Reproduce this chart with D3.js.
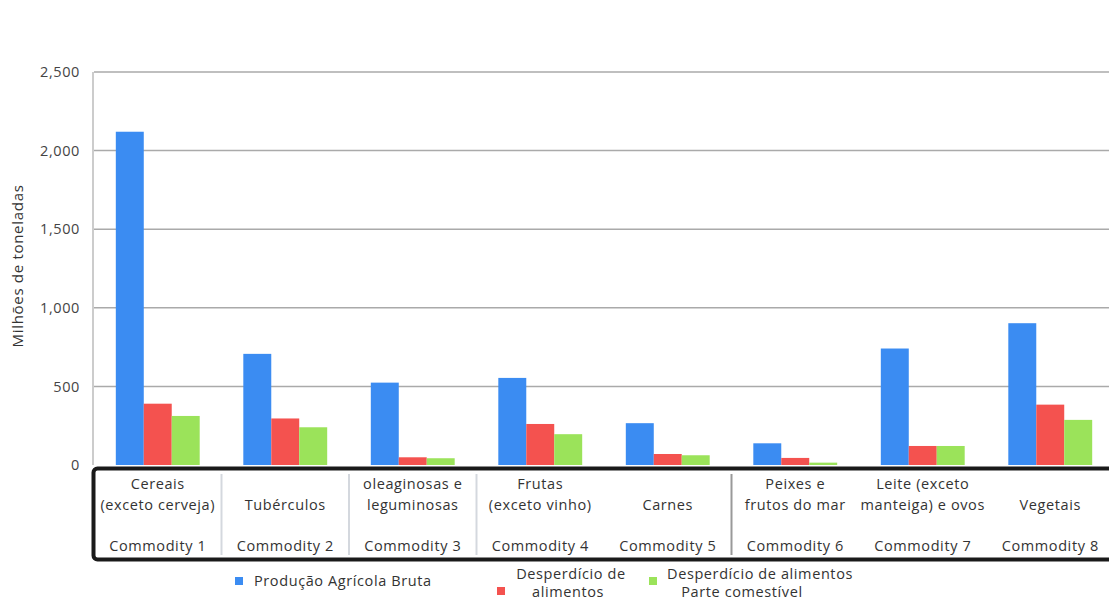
<!DOCTYPE html>
<html><head><meta charset="utf-8">
<script src="https://cdn.jsdelivr.net/npm/d3@7"></script>
<style>body{margin:0;background:#fff;} text{font-family:"Open Sans",sans-serif;letter-spacing:0.6px;}</style>
</head><body>
<svg id="c" width="1109" height="601"></svg>
<script>
const categories = ["Commodity 1","Commodity 2","Commodity 3","Commodity 4","Commodity 5","Commodity 6","Commodity 7","Commodity 8"];
const categoryNames = [["Cereais","(exceto cerveja)"],["Tubérculos"],["oleaginosas e","leguminosas"],["Frutas","(exceto vinho)"],["Carnes"],["Peixes e","frutos do mar"],["Leite (exceto","manteiga) e ovos"],["Vegetais"]];
const seriesNames = ["Produção Agrícola Bruta","Desperdício de alimentos","Desperdício de alimentos Parte comestível"];
const producao = [2120, 707, 524, 554, 266, 138, 741, 902];
const desperdicio = [390, 296, 49, 261, 70, 45, 121, 384];
const comestivel = [312, 240, 43, 196, 62, 15, 121, 287];
const yTicks = [0, 500, 1000, 1500, 2000, 2500];
const colors = ["#3b8cf2", "#f4524f", "#9be35a"];
const seriesValues = [producao, desperdicio, comestivel];

const svg = d3.select("#c");
const y = d3.scaleLinear().domain([0, 2500]).range([465, 72]);
const x0 = d3.scaleBand().domain(categories).range([94, 1114]).padding(0);
const x1 = d3.scaleBand().domain([0,1,2]).range([0, x0.bandwidth()]).paddingInner(0).paddingOuter(0.78);

// gridlines
svg.append("g").selectAll("line").data(yTicks.filter(d=>d>0)).join("line")
  .attr("x1", 94).attr("x2", 1109).attr("y1", d=>y(d)).attr("y2", d=>y(d))
  .attr("stroke", "#aaa").attr("stroke-width", 1.5);
// y axis line
svg.append("line").attr("x1",93).attr("x2",93).attr("y1",y(2500)).attr("y2",y(0)).attr("stroke","#bbb").attr("stroke-width",1.5);

// y axis tick labels
const yAxis = d3.axisLeft(y).tickValues(yTicks).tickSize(0).tickPadding(0).tickFormat(d3.format(","));
const ga = svg.append("g").attr("transform","translate(80,0)").call(yAxis);
ga.select(".domain").remove();
ga.selectAll("text").attr("fill","#444").style("font-size","14.5px").style("font-family","Open Sans").style("letter-spacing","0.6px");

svg.append("text").attr("transform","translate(23,266) rotate(-90)").attr("text-anchor","middle")
  .attr("fill","#333").style("font-size","15px").style("letter-spacing","0.7px").text("Milhões de toneladas");

// bars
const groups = svg.append("g").selectAll("g").data(categories).join("g")
  .attr("transform", d=>`translate(${x0(d)},0)`);
groups.selectAll("rect").data((d,i)=>seriesValues.map((s,k)=>({k, v:s[i]}))).join("rect")
  .attr("x", d=>x1(d.k)).attr("width", x1.bandwidth())
  .attr("y", d=>y(d.v)).attr("height", d=>y(0)-y(d.v))
  .attr("fill", d=>colors[d.k]);

// category box
svg.append("rect").attr("x",93.5).attr("y",468.5).attr("width",1030).attr("height",91).attr("rx",4)
  .attr("fill","#fff").attr("stroke","#1a1a1a").attr("stroke-width",4);
// separators
const sepIdx = [1,2,3,5];
svg.append("g").selectAll("line").data(sepIdx).join("line")
  .attr("x1", i=>x0(categories[i])).attr("x2", i=>x0(categories[i]))
  .attr("y1", 474).attr("y2", 555)
  .attr("stroke", i=> i===5 ? "#999" : "#d4d8de").attr("stroke-width", 2);

const lab = svg.append("g").selectAll("g").data(categories).join("g")
  .attr("transform", d=>`translate(${x0(d)+x0.bandwidth()/2},0)`);
lab.each(function(d,i){
  const g = d3.select(this);
  const lines = categoryNames[i];
  lines.forEach((t,j)=>{
    const yy = lines.length===2 ? 489 + j*21 : 510;
    g.append("text").attr("y", yy).attr("text-anchor","middle").attr("fill","#333").style("font-size","14.5px").text(t);
  });
  g.append("text").attr("y", 551).attr("text-anchor","middle").attr("fill","#333").style("font-size","14.5px").text(d);
});

// legend
const leg = svg.append("g");
leg.append("rect").attr("x",235).attr("y",577).attr("width",8).attr("height",8).attr("fill",colors[0]);
leg.append("text").attr("x",254).attr("y",586).attr("fill","#333").style("font-size","14.5px").text(seriesNames[0]);
leg.append("rect").attr("x",497).attr("y",587).attr("width",8).attr("height",8).attr("fill",colors[1]);
leg.append("text").attr("x",571).attr("y",579).attr("text-anchor","middle").attr("fill","#333").style("font-size","14.5px").text("Desperdício de");
leg.append("text").attr("x",568).attr("y",597).attr("text-anchor","middle").attr("fill","#333").style("font-size","14.5px").text("alimentos");
leg.append("rect").attr("x",649).attr("y",577).attr("width",8).attr("height",8).attr("fill",colors[2]);
leg.append("text").attr("x",760).attr("y",579).attr("text-anchor","middle").attr("fill","#333").style("font-size","14.5px").text("Desperdício de alimentos");
leg.append("text").attr("x",742).attr("y",597).attr("text-anchor","middle").attr("fill","#333").style("font-size","14.5px").text("Parte comestível");
</script>
</body></html>
